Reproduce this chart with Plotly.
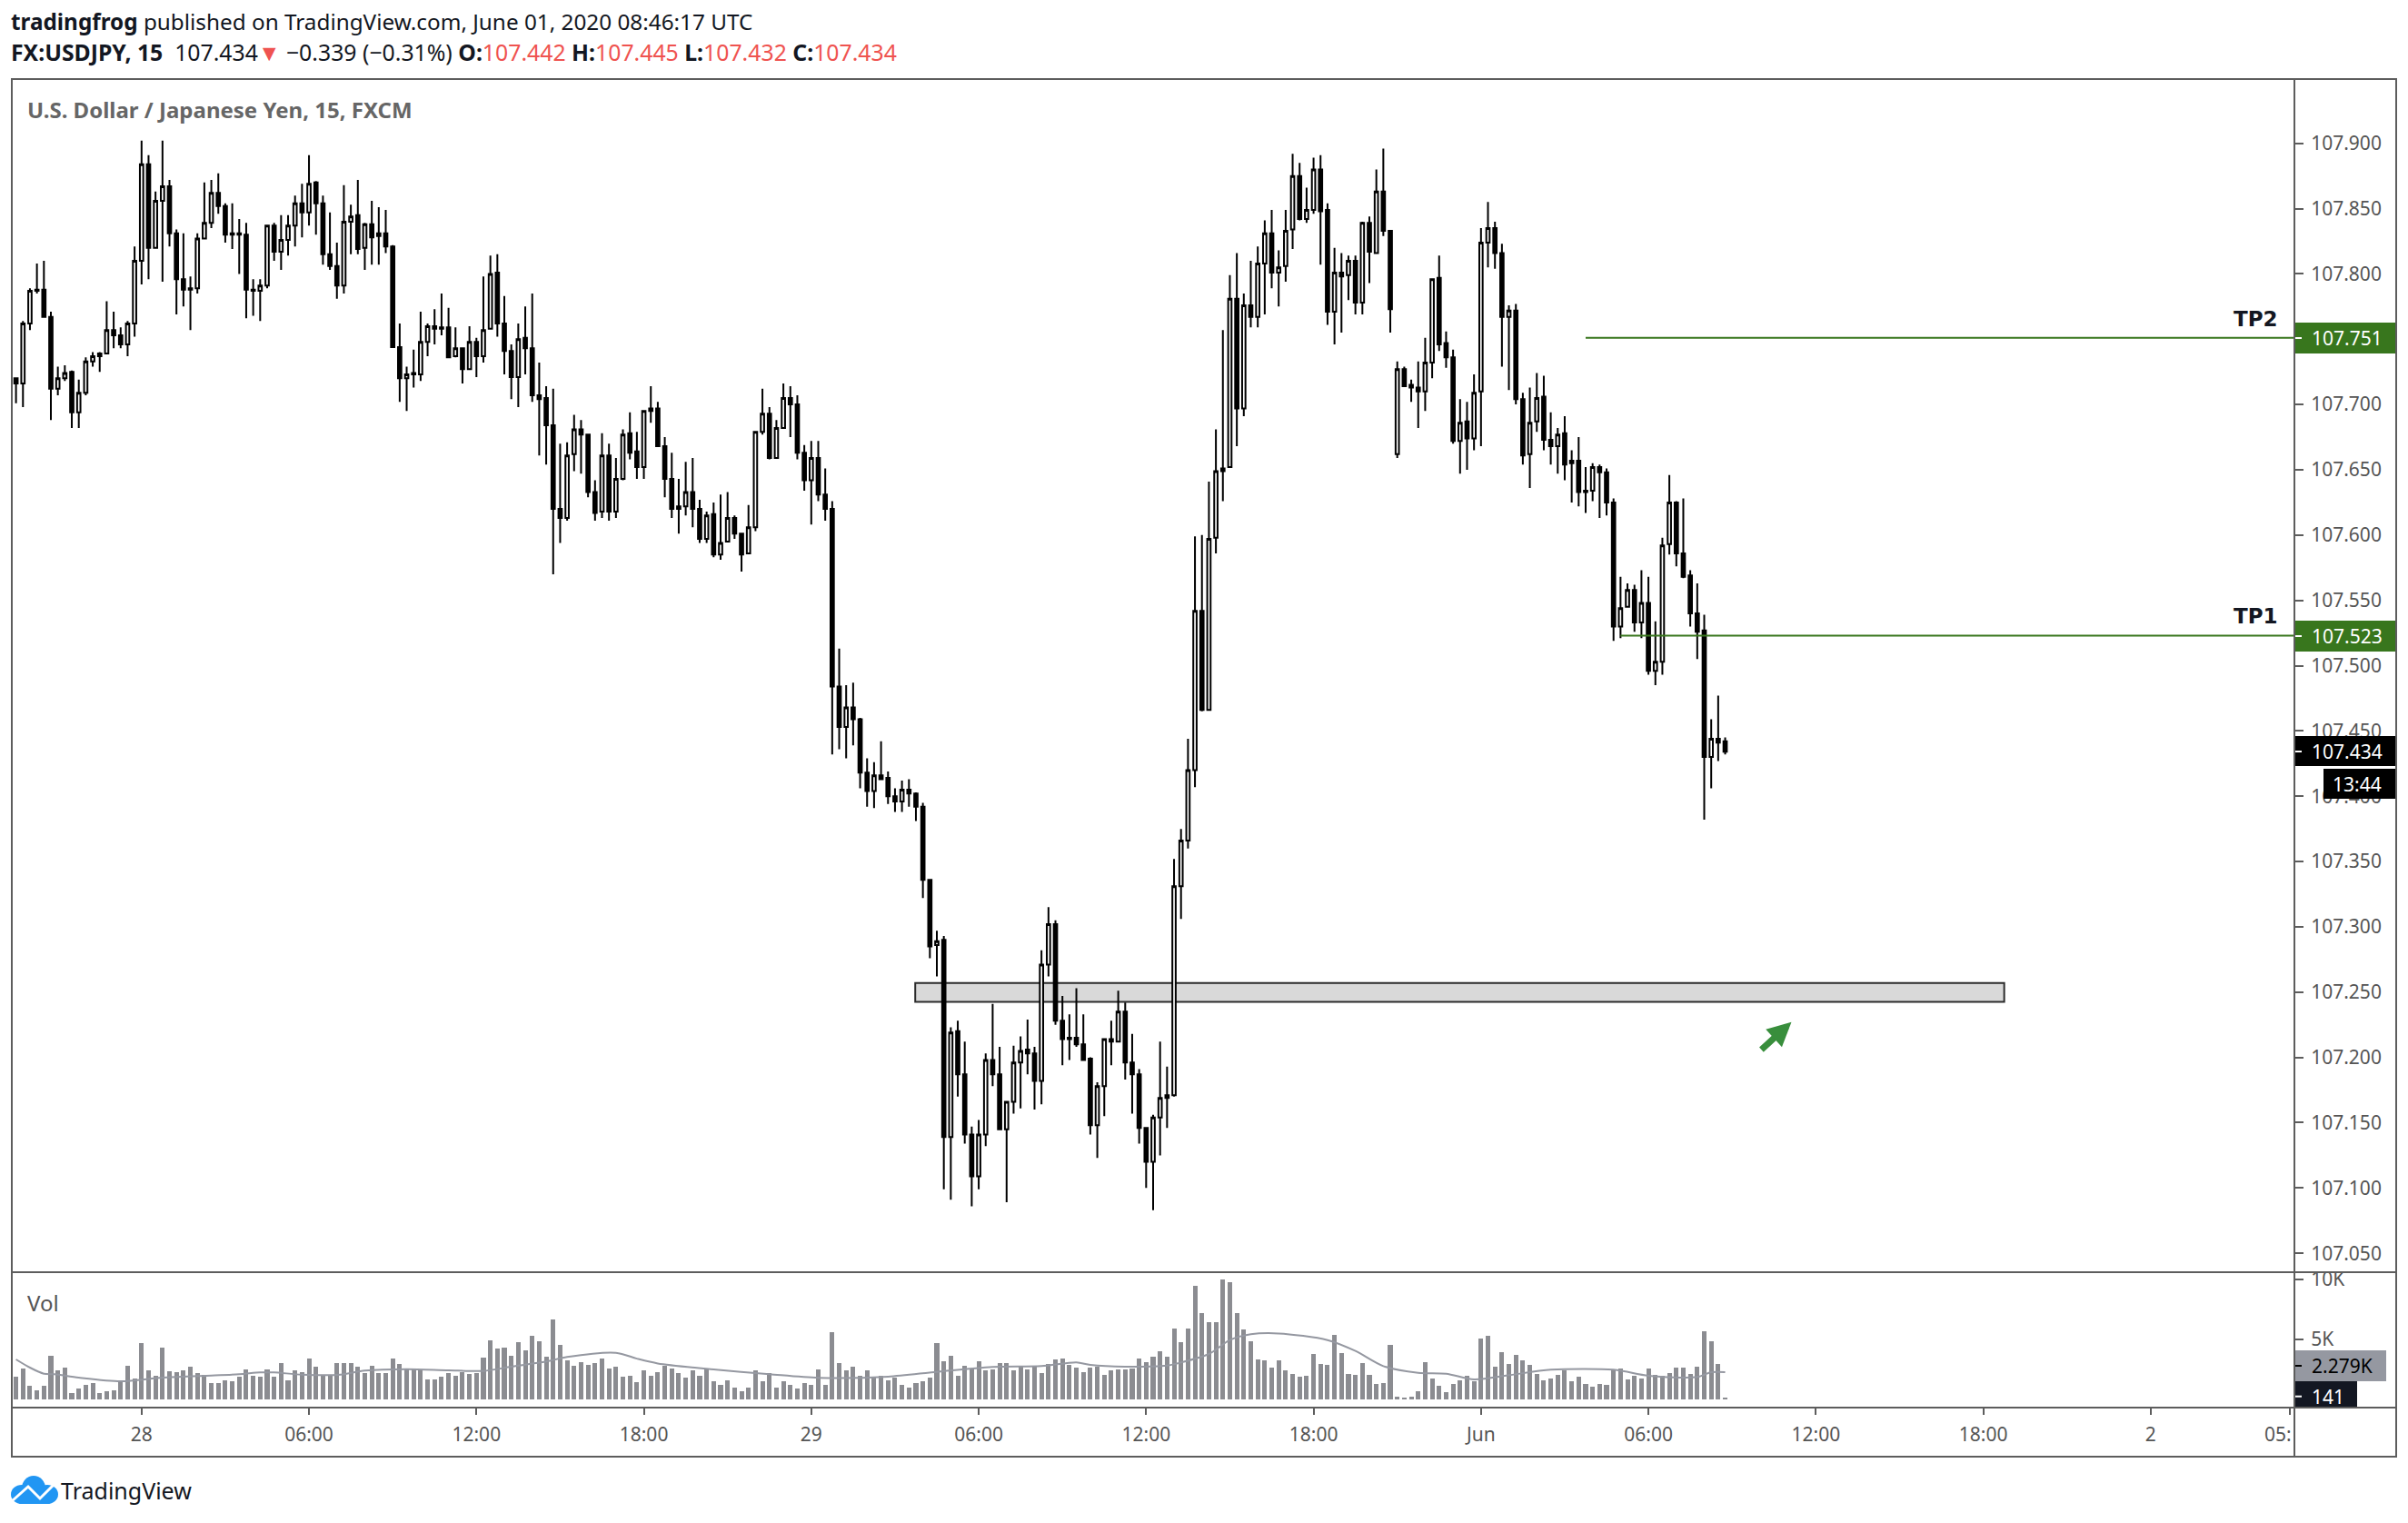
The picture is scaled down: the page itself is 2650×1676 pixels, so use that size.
import plotly.graph_objects as go

W, H = 2650, 1676

opens = [
107.720,107.716,107.762,107.788,107.788,107.767,107.712,107.720,107.725,107.694,
107.709,107.733,107.739,107.739,107.757,107.753,107.746,107.762,107.810,107.884,
107.820,107.856,107.867,107.831,107.796,107.789,107.789,107.827,107.839,107.862,
107.852,107.831,107.831,107.830,107.788,107.787,107.791,107.837,107.817,107.826,
107.837,107.854,107.847,107.870,107.854,107.815,107.806,107.791,107.840,107.845,
107.820,107.838,107.831,107.831,107.821,107.744,107.720,107.724,107.723,107.748,
107.760,107.759,107.759,107.737,107.743,107.727,107.748,107.737,107.758,107.801,
107.762,107.741,107.721,107.751,107.743,107.707,107.705,107.684,107.620,107.613,
107.662,107.681,107.677,107.633,107.618,107.661,107.618,107.643,107.678,107.664,
107.652,107.697,107.697,107.668,107.643,107.622,107.622,107.633,107.620,107.597,
107.616,107.585,107.595,107.613,107.601,107.586,107.606,107.679,107.693,107.659,
107.682,107.705,107.700,107.663,107.642,107.659,107.631,107.620,107.484,107.453,
107.468,107.459,107.418,107.404,107.416,107.414,107.400,107.396,107.405,107.402,
107.392,107.336,107.286,107.290,107.139,107.220,107.187,107.141,107.109,107.141,
107.198,107.187,107.145,107.166,107.196,107.206,107.203,107.182,107.271,107.302,
107.228,107.215,107.215,107.210,107.199,107.148,107.178,107.214,107.212,107.235,
107.196,107.187,107.146,107.120,107.154,107.171,107.171,107.331,107.366,107.420,
107.542,107.466,107.598,107.649,107.652,107.781,107.697,107.776,107.767,107.808,
107.831,107.801,107.806,107.834,107.875,107.842,107.849,107.880,107.849,107.771,
107.801,107.799,107.810,107.778,107.839,107.816,107.863,107.833,107.662,107.727,
107.715,107.713,107.710,107.732,107.797,107.747,107.736,107.672,107.687,107.674,
107.710,107.824,107.835,107.816,107.767,107.772,107.704,107.662,107.687,107.706,
107.673,107.668,107.678,107.657,107.657,107.634,107.634,107.652,107.648,107.625,
107.530,107.545,107.558,107.533,107.548,107.496,107.503,107.593,107.625,107.586,
107.569,107.540,107.527,107.430,107.444,107.442]

highs = [
107.720,107.764,107.789,107.808,107.810,107.771,107.729,107.730,107.726,107.719,
107.736,107.740,107.740,107.779,107.771,107.759,107.764,107.821,107.902,107.891,
107.863,107.902,107.872,107.834,107.831,107.798,107.831,107.870,107.872,107.877,
107.854,107.854,107.842,107.839,107.796,107.796,107.837,107.839,107.845,107.845,
107.860,107.869,107.891,107.871,107.860,107.847,107.824,107.868,107.853,107.872,
107.839,107.856,107.851,107.849,107.822,107.762,107.729,107.742,107.771,107.762,
107.773,107.785,107.774,107.759,107.743,107.760,107.751,107.798,107.814,107.815,
107.783,107.746,107.762,107.775,107.785,107.732,107.714,107.712,107.670,107.671,
107.692,107.688,107.677,107.642,107.678,107.670,107.659,107.681,107.694,107.679,
107.695,107.714,107.702,107.675,107.663,107.643,107.656,107.659,107.627,107.618,
107.625,107.631,107.633,107.615,107.601,107.623,107.679,107.712,107.698,107.688,
107.716,107.714,107.707,107.669,107.672,107.672,107.651,107.626,107.513,107.485,
107.487,107.460,107.429,107.426,107.442,107.419,107.406,107.412,107.413,107.403,
107.395,107.336,107.297,107.293,107.223,107.228,107.212,107.147,107.152,107.203,
107.241,107.208,107.166,107.209,107.216,107.229,107.208,107.282,107.315,107.305,
107.247,107.233,107.253,107.233,107.200,107.181,107.214,107.228,107.251,107.242,
107.218,107.191,107.146,107.156,107.212,107.193,107.352,107.375,107.444,107.599,
107.600,107.641,107.681,107.757,107.799,107.816,107.785,107.810,107.821,107.841,
107.849,107.818,107.849,107.892,107.885,107.866,107.889,107.891,107.854,107.820,
107.816,107.814,107.814,107.840,107.844,107.880,107.896,107.833,107.733,107.729,
107.719,107.733,107.751,107.796,107.814,107.756,107.742,107.704,107.702,107.723,
107.835,107.855,107.840,107.823,107.776,107.777,107.709,107.713,107.724,107.722,
107.694,107.682,107.691,107.665,107.675,107.652,107.655,107.654,107.651,107.628,
107.568,107.563,107.562,107.573,107.568,107.534,107.598,107.646,107.626,107.628,
107.573,107.563,107.539,107.459,107.477,107.445]

lows = [
107.701,107.698,107.757,107.785,107.767,107.688,107.707,107.718,107.682,107.682,
107.707,107.729,107.725,107.739,107.743,107.743,107.737,107.752,107.792,107.796,
107.820,107.794,107.821,107.769,107.775,107.757,107.785,107.827,107.835,107.846,
107.824,107.819,107.800,107.766,107.768,107.764,107.789,107.810,107.803,107.814,
107.821,107.828,107.837,107.830,107.807,107.803,107.781,107.785,107.815,107.815,
107.803,107.807,107.807,107.816,107.744,107.702,107.695,107.713,107.718,107.737,
107.746,107.753,107.736,107.736,107.716,107.727,107.721,107.732,107.758,107.752,
107.723,107.704,107.698,107.723,107.702,107.661,107.654,107.570,107.594,107.611,
107.649,107.647,107.629,107.611,107.613,107.611,107.613,107.642,107.658,107.643,
107.643,107.686,107.668,107.629,107.613,107.601,107.615,107.606,107.594,107.594,
107.583,107.581,107.595,107.597,107.572,107.586,107.603,107.677,107.658,107.659,
107.682,107.675,107.658,107.634,107.608,107.626,107.611,107.432,107.436,107.429,
107.439,107.406,107.392,107.391,107.413,107.394,107.388,107.388,107.392,107.381,
107.322,107.276,107.262,107.099,107.091,107.170,107.134,107.086,107.099,107.132,
107.178,107.145,107.089,107.157,107.161,107.187,107.160,107.164,107.262,107.225,
107.194,107.198,107.208,107.198,107.141,107.123,107.155,107.194,107.212,107.183,
107.157,107.134,107.100,107.083,107.125,107.146,107.170,107.306,107.360,107.407,
107.465,107.466,107.586,107.626,107.652,107.668,107.691,107.759,107.759,107.769,
107.789,107.775,107.794,107.819,107.841,107.839,107.846,107.807,107.761,107.746,
107.755,107.780,107.769,107.769,107.793,107.816,107.829,107.755,107.659,107.714,
107.702,107.682,107.695,107.720,107.741,107.728,107.670,107.647,107.650,107.665,
107.668,107.805,107.804,107.729,107.711,107.700,107.654,107.636,107.679,107.665,
107.654,107.647,107.642,107.625,107.622,107.617,107.626,107.613,107.615,107.519,
107.521,107.545,107.526,107.521,107.493,107.485,107.493,107.585,107.576,107.567,
107.530,107.505,107.382,107.406,107.427,107.432]

closes = [
107.716,107.762,107.787,107.787,107.767,107.712,107.720,107.724,107.694,107.709,
107.733,107.737,107.737,107.757,107.753,107.746,107.762,107.810,107.884,107.820,
107.856,107.867,107.831,107.796,107.788,107.788,107.827,107.839,107.862,107.852,
107.830,107.830,107.830,107.788,107.787,107.791,107.837,107.817,107.826,107.837,
107.854,107.847,107.869,107.854,107.815,107.806,107.791,107.840,107.844,107.819,
107.838,107.828,107.829,107.821,107.744,107.720,107.723,107.723,107.748,107.760,
107.758,107.758,107.736,107.743,107.727,107.748,107.737,107.757,107.800,107.762,
107.741,107.721,107.750,107.743,107.707,107.704,107.684,107.620,107.613,107.661,
107.681,107.677,107.633,107.617,107.661,107.618,107.643,107.677,107.663,107.652,
107.695,107.695,107.668,107.643,107.620,107.620,107.633,107.620,107.597,107.615,
107.585,107.594,107.613,107.601,107.585,107.606,107.679,107.693,107.659,107.682,
107.705,107.700,107.663,107.642,107.659,107.631,107.620,107.484,107.453,107.468,
107.459,107.418,107.404,107.416,107.413,107.400,107.396,107.405,107.402,107.392,
107.336,107.285,107.289,107.139,107.219,107.187,107.141,107.109,107.141,107.198,
107.187,107.145,107.166,107.196,107.205,107.203,107.182,107.271,107.302,107.228,
107.214,107.214,107.210,107.198,107.148,107.178,107.214,107.212,107.235,107.196,
107.187,107.146,107.120,107.154,107.169,107.169,107.331,107.366,107.420,107.542,
107.466,107.597,107.649,107.651,107.781,107.697,107.776,107.767,107.808,107.831,
107.801,107.805,107.833,107.875,107.842,107.849,107.880,107.848,107.771,107.801,
107.798,107.810,107.778,107.839,107.817,107.863,107.833,107.773,107.727,107.714,
107.713,107.710,107.732,107.796,107.746,107.736,107.672,107.686,107.674,107.709,
107.824,107.835,107.816,107.767,107.772,107.704,107.661,107.686,107.705,107.673,
107.668,107.677,107.654,107.655,107.633,107.633,107.652,107.648,107.625,107.530,
107.544,107.558,107.533,107.548,107.496,107.503,107.592,107.625,107.586,107.568,
107.540,107.526,107.430,107.444,107.441,107.434]

volumes = [
1890,2575,1136,758,1136,3636,2424,2651,530,909,
1212,1364,530,682,758,1439,2803,1742,4697,2424,
1970,4318,2348,2273,2424,2727,2197,2045,1364,1364,
1591,1515,1894,2500,1970,1894,2500,1894,3030,1591,
2424,2273,3409,2727,1970,1970,3030,3030,3030,2727,
2197,2803,2197,2197,3409,2954,2500,2500,2500,1667,
1667,1894,2197,1970,2273,2121,2197,3485,4924,4242,
4318,3636,4772,4091,5303,4848,3560,6666,4545,3257,
2803,3106,2879,3030,3409,2575,2727,1894,1970,1439,
2400,2000,2300,2800,2600,2200,1800,2400,2000,2600,
1500,1200,1600,1000,700,1000,2400,1500,2200,1000,
1500,1200,900,1400,1200,2500,1200,5600,3000,2400,
2700,2000,2400,1800,2000,1600,1800,1200,1000,1400,
1500,1800,4700,3200,3600,2000,2800,2600,3200,2400,
2500,3000,3000,2400,2700,2500,2700,2200,
2954,3333,3409,2879,2651,2273,2651,2727,2045,2424,
2500,2500,2575,3409,3106,3560,4015,3560,5909,4772,
5909,9469,7196,6439,6439,10000,9772,7196,5833,4848,
3333,3257,2651,3257,2424,2121,1894,1970,3788,2954,
2879,5378,3863,2121,2045,3030,2045,1288,1364,4545,
227,152,227,682,3106,1742,1136,606,1288,1591,
1970,1515,5075,5303,2727,3939,2954,3712,3257,2879,
2121,1591,1742,2045,2424,1515,1894,1288,1061,1288,
1212,2424,2575,1667,1970,1742,2575,2045,1970,2197,
2651,2651,2121,2727,5681,4848,2954,141]

ma_index = [0,2,4,5.5,9,15,21,27,32,35,37,41,46.5,50,56,62,67,71,76,79,86,89,
            92,100,108,115,125,132,140,147,152,154,159,165,167,171,174,177,181,
            188,192,196,201,205,209,214,220,229,234,241,243,245]
ma_values = [3333,2651,2146,2096,1818,1515,1818,1970,2096,2247,2247,2070,2070,2400,2525,2424,2373,2727,3156,3535,3888,3400,
             3000,2500,2100,1800,1900,2300,2700,2778,3090,2878,2727,2828,3080,3787,4949,5428,5500,
             4949,4040,2778,2222,2146,1666,2020,2474,2474,1970,1869,2272,2279]

time_tick_index = [18,42,66,90,114,138,162,186,210,234,258,282,306,326]
time_tick_labels = ["28","06:00","12:00","18:00","29","06:00","12:00","18:00","Jun","06:00","12:00","18:00","2",""]
price_ticks = [107.05,107.10,107.15,107.20,107.25,107.30,107.35,107.40,107.45,107.50,107.55,107.60,107.65,107.70,107.75,107.80,107.85,107.90]
volume_ticks = [5000,10000]
volume_tick_labels = ["5K","10K"]
tp1, tp2, last_price = 107.523, 107.751, 107.434
zone_low, zone_high = 107.2426, 107.257
zone_start, zone_end = 128.9, 285
tp1_start, tp2_start = 230, 225

assert len(opens)==len(highs)==len(lows)==len(closes)==len(volumes)==246
index = list(range(len(opens)))

GREY = "#5d5d5d"
TXT = "#555555"
GREEN = "#38761d"
FONT = "Noto Sans"

def px(x): return x / W
def py(y): return 1 - y / H

fig = go.Figure()
fig.add_trace(go.Candlestick(
    x=index, open=opens, high=highs, low=lows, close=closes, xaxis="x", yaxis="y",
    increasing=dict(line=dict(color="#000000", width=2), fillcolor="#ffffff"),
    decreasing=dict(line=dict(color="#000000", width=2), fillcolor="#000000"),
    whiskerwidth=0, hoverinfo="skip", showlegend=False))
fig.add_trace(go.Bar(x=index, y=volumes, xaxis="x2", yaxis="y2", width=0.66,
    marker=dict(color="#8b8c91", line=dict(width=0)), hoverinfo="skip", showlegend=False))
fig.add_trace(go.Scatter(x=ma_index, y=ma_values, xaxis="x2", yaxis="y2", mode="lines",
    line=dict(color="#9598a1", width=2, shape="spline", smoothing=0.8), hoverinfo="skip", showlegend=False))

shapes = []
def rect(x0, y0, x1, y1, fill, line=None, lw=0, layer="above"):
    shapes.append(dict(type="rect", xref="paper", yref="paper", x0=px(x0), x1=px(x1), y0=py(y0), y1=py(y1),
                       fillcolor=fill, line=dict(color=line or fill, width=lw), layer=layer))
def hline(x0, y0, x1, y1, color=GREY, lw=2):
    shapes.append(dict(type="line", xref="paper", yref="paper", x0=px(x0), x1=px(x1), y0=py(y0), y1=py(y1),
                       line=dict(color=color, width=lw), layer="above"))

# zone and target lines
shapes.append(dict(type="rect", xref="x", yref="y", x0=zone_start, x1=zone_end, y0=zone_low, y1=zone_high,
                   fillcolor="#d9d9d9", line=dict(color="#2b2b2b", width=2), layer="below"))
for start, level in ((tp1_start, tp1), (tp2_start, tp2)):
    shapes.append(dict(type="line", xref="x", yref="y", x0=start, x1=326.6, y0=level, y1=level,
                       line=dict(color=GREEN, width=2), layer="above"))

# price tags
rect(2524, 683, 2636, 717, GREEN)
rect(2524, 355, 2636, 389, GREEN)
rect(2524, 810, 2636, 843, "#000000")
rect(2557, 846, 2636, 879, "#000000")
rect(2524, 1486, 2626, 1520, "#9598a1")
rect(2524, 1520, 2594, 1548, "#131722")
for yy, col in ((700, "#ffffff"), (372, "#ffffff"), (827, "#ffffff"), (1503, "#000000"), (1536.7, "#ffffff")):
    hline(2525, yy, 2533, yy, col, 2)

# frame
rect(13, 87, 2637, 1603, "rgba(0,0,0,0)", GREY, 2)
hline(13, 1400, 2637, 1400)
hline(13, 1549, 2637, 1549)
hline(2525, 87, 2525, 1603)

# TradingView logo
LOGO = "#2196f3"
def ell(x0, y0, x1, y1):
    shapes.append(dict(type="circle", xref="paper", yref="paper", x0=px(x0), x1=px(x1), y0=py(y0), y1=py(y1),
                       fillcolor=LOGO, line=dict(width=0), layer="above"))
ell(12, 1634, 36, 1655); ell(24, 1624, 50, 1652); ell(40, 1634, 64, 1655)
rect(24, 1644, 52, 1655, LOGO)
poly = [(13, 1652), (31, 1636), (44, 1649), (60, 1633)]
shapes.append(dict(type="path", xref="paper", yref="paper", layer="above",
                   path="M " + " L ".join(f"{px(a):.5f},{py(b):.5f}" for a, b in poly),
                   line=dict(color="#ffffff", width=3)))

anns = []
def text(x, y, t, size=21, color=TXT, anchor="left", family=FONT):
    anns.append(dict(xref="paper", yref="paper", x=px(x), y=py(y), text=t, showarrow=False, xanchor=anchor,
                     yanchor="middle", align="left", borderpad=0,
                     font=dict(family=family, size=size, color=color)))

RED = "#ef5350"
DARK = "#131722"
text(11, 24, "<b>tradingfrog</b> published on TradingView.com, June 01, 2020 08:46:17 UTC", 24.3, DARK)
text(11, 57, (f"<b>FX:USDJPY, 15</b>  107.434<span style='color:{RED}'>▼</span> −0.339 (−0.31%) "
              f"<b>O:</b><span style='color:{RED}'>107.442</span> <b>H:</b><span style='color:{RED}'>107.445</span> "
              f"<b>L:</b><span style='color:{RED}'>107.432</span> <b>C:</b><span style='color:{RED}'>107.434</span>"), 24.8, DARK)
text(29, 120, "<b>U.S. Dollar / Japanese Yen, 15, FXCM</b>", 24, "#666666")
text(29, 1433, "Vol", 24, "#555555")
text(2508, 678, "<b>TP1</b>", 23, DARK, "right", "DejaVu Sans")
text(2508, 351, "<b>TP2</b>", 23, DARK, "right", "DejaVu Sans")
text(2543, 700, f"{tp1:.3f}", 21, "#ffffff")
text(2543, 372, f"{tp2:.3f}", 21, "#ffffff")
text(2543, 827, f"{last_price:.3f}", 21, "#ffffff")
text(2566, 863, "13:44", 21, "#ffffff")
text(2543, 1503, "2.279K", 21, "#000000")
text(2543, 1537, "141", 21, "#ffffff")
text(2523, 1578, "05:", 21, TXT, "right")
text(66, 1640, "TradingView", 25, DARK)

# bounce arrow
anns.append(dict(xref="x", yref="y", axref="x", ayref="y", x=254.5, y=107.227, ax=250, ay=107.205,
                 text="", showarrow=True, arrowhead=2, arrowsize=0.75, arrowwidth=7, arrowcolor="#388e3c"))

fig.update_layout(
    width=W, height=H, margin=dict(l=0, r=0, t=0, b=0, pad=0, autoexpand=False), autosize=False,
    paper_bgcolor="#ffffff", plot_bgcolor="#ffffff", boxgap=0.52, boxgroupgap=0, bargap=0, showlegend=False,
    shapes=shapes, annotations=anns, hovermode=False,
    xaxis=dict(domain=[px(13), px(2525)], range=[-0.6, 326.6], anchor="y", showticklabels=False, ticks="",
               showgrid=False, zeroline=False, rangeslider=dict(visible=False), showline=False),
    yaxis=dict(domain=[py(1400), py(87)], range=[107.0355, 107.9492], side="right", anchor="x",
               tickvals=price_ticks, tickformat=".3f", ticks="outside", ticklen=9, tickwidth=2, tickcolor=GREY,
               ticklabelstandoff=4, showgrid=False, zeroline=False, showline=False,
               tickfont=dict(family=FONT, size=21, color=TXT)),
    xaxis2=dict(domain=[px(13), px(2525)], range=[-0.6, 326.6], anchor="y2", tickvals=time_tick_index,
                ticktext=time_tick_labels, ticks="outside", ticklen=7, tickwidth=2, tickcolor=GREY,
                showgrid=False, zeroline=False, showline=False, tickangle=0, ticklabelstandoff=4,
                tickfont=dict(family=FONT, size=21, color=TXT)),
    yaxis2=dict(domain=[py(1549), py(1400)], range=[-682, 10606], side="right", anchor="x2",
                tickvals=volume_ticks, ticktext=volume_tick_labels, ticks="outside", ticklen=9, tickwidth=2,
                tickcolor=GREY, ticklabelstandoff=4, showgrid=False, zeroline=False, showline=False,
                tickfont=dict(family=FONT, size=21, color=TXT)),
)

fig.write_html("out.html", config={"displayModeBar": False, "staticPlot": True},
               post_script="document.body.style.margin='0';document.body.style.overflow='hidden';")
